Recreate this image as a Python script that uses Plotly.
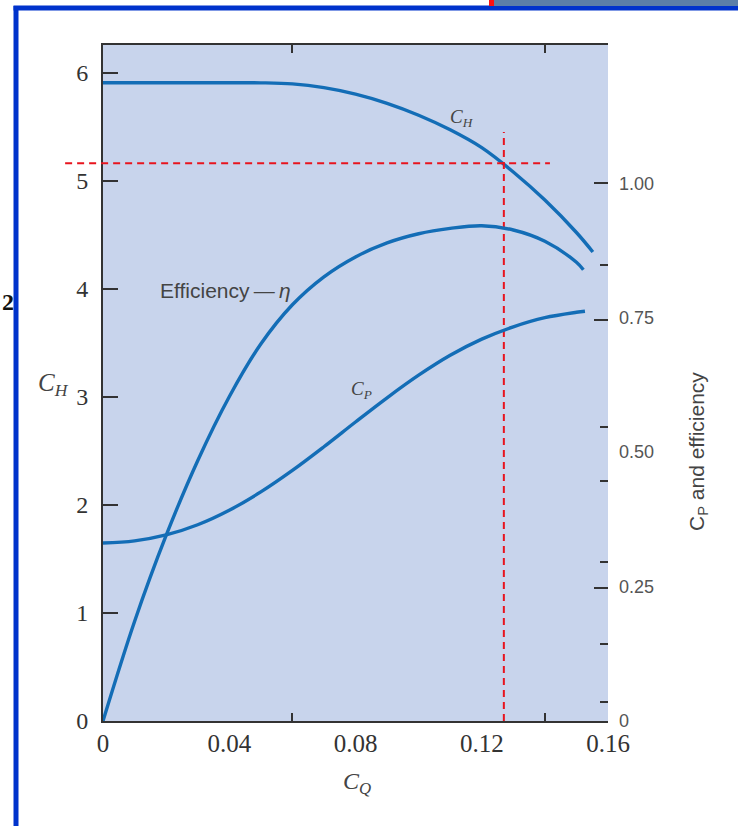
import plotly.graph_objects as go

# ---------------- data ----------------
q_head = [0, 0.02, 0.04, 0.05, 0.06, 0.07, 0.08, 0.09, 0.10, 0.11, 0.12, 0.13, 0.14, 0.15, 0.1552]
c_head = [5.906, 5.906, 5.906, 5.905, 5.895, 5.86, 5.80, 5.715, 5.605, 5.47, 5.305, 5.08, 4.82, 4.52, 4.34]

q_eff = [0, 0.01, 0.02, 0.03, 0.04, 0.05, 0.06, 0.07, 0.08, 0.09, 0.10, 0.11, 0.12, 0.13, 0.14, 0.15, 0.1522]
eff = [0, 0.185, 0.345, 0.484, 0.603, 0.701, 0.774, 0.826, 0.863, 0.889, 0.906, 0.916, 0.921, 0.913,
       0.892, 0.853, 0.839]

q_power = [0, 0.01, 0.02, 0.03, 0.04, 0.05, 0.06, 0.07, 0.08, 0.09, 0.10, 0.11, 0.12, 0.13, 0.14, 0.15, 0.1527]
c_power = [0.331, 0.335, 0.346, 0.365, 0.392, 0.426, 0.466, 0.510, 0.556, 0.601, 0.643, 0.680, 0.710,
           0.733, 0.750, 0.760, 0.762]

op_q = 0.127            # operating point flow coefficient
op_head = 5.16          # operating point head coefficient
op_vline_top = 5.45
op_hline_start = -0.012
op_hline_end = 0.1416

x_tickvals = [0, 0.04, 0.08, 0.12, 0.16]
x_ticktext = ["0", "0.04", "0.08", "0.12", "0.16"]
x_minor_ticks = [0.06, 0.14]
y_tickvals = [0, 1, 2, 3, 4, 5, 6]
y2_tickvals = [0, 0.25, 0.50, 0.75, 1.00]
y2_ticktext = ["0", "0.25", "0.50", "0.75", "1.00"]
y2_long_ticks = [0.247, 0.745, 1.0]
y2_short_ticks = [0.035, 0.144, 0.296, 0.447, 0.547, 0.847]

X_RANGE = [0, 0.16]
Y_RANGE = [0, 6.255]
Y2_RANGE = [0, 1.257]

# ---------------- layout geometry ----------------
W, H = 738, 826
ML, MR, MT, MB = 103, 130, 45, 105
PW, PH = W - ML - MR, H - MT - MB


def px(xp, yp):
    """pixel -> paper coordinates"""
    return (xp - ML) / PW, (H - MB - yp) / PH


BLUE = "#136db6"
RED = "#e8141e"
AX = "#333333"
LINE = dict(color=BLUE, width=3.4, shape="spline", smoothing=1.0)

fig = go.Figure()

fig.add_trace(go.Scatter(x=q_head, y=c_head, mode="lines", line=LINE,
                         xaxis="x", yaxis="y", hoverinfo="skip", showlegend=False))
fig.add_trace(go.Scatter(x=q_eff, y=eff, mode="lines", line=LINE,
                         xaxis="x", yaxis="y2", hoverinfo="skip", showlegend=False))
fig.add_trace(go.Scatter(x=q_power, y=c_power, mode="lines", line=LINE,
                         xaxis="x", yaxis="y2", hoverinfo="skip", showlegend=False))
# operating point vertical dashed line
fig.add_trace(go.Scatter(x=[op_q, op_q], y=[0, op_vline_top], mode="lines",
                         line=dict(color=RED, width=2, dash="7px,5px"),
                         xaxis="x", yaxis="y", hoverinfo="skip", showlegend=False))
# dummy traces to activate helper axes
for ya in ["y3", "y4"]:
    fig.add_trace(go.Scatter(x=[None], y=[None], xaxis="x", yaxis=ya, showlegend=False, hoverinfo="skip"))
fig.add_trace(go.Scatter(x=[None], y=[None], xaxis="x2", yaxis="y", showlegend=False, hoverinfo="skip"))

# horizontal dashed line (extends left of the axis)
hx0 = (op_hline_start - X_RANGE[0]) / (X_RANGE[1] - X_RANGE[0])
hx1 = (op_hline_end - X_RANGE[0]) / (X_RANGE[1] - X_RANGE[0])
shapes = [
    dict(type="line", xref="paper", yref="y", x0=hx0, x1=hx1, y0=op_head, y1=op_head,
         line=dict(color=RED, width=2, dash="7px,5px"), layer="above"),
]

# page decorations (frame of the slide)
fx0, fy0 = px(16, 6)
fx1, fy1 = px(16, 830)
shapes.append(dict(type="line", xref="paper", yref="paper", x0=fx0, x1=fx1, y0=fy0, y1=fy1,
                   line=dict(color="#0033cc", width=5)))
tx0, ty0 = px(13.5, 8)
tx1, _ = px(740, 8)
shapes.append(dict(type="line", xref="paper", yref="paper", x0=tx0, x1=tx1, y0=ty0, y1=ty0,
                   line=dict(color="#0033cc", width=5)))
bx0, by0 = px(494, 0)
bx1, by1 = px(740, 6)
shapes.append(dict(type="rect", xref="paper", yref="paper", x0=bx0, x1=bx1, y0=by0, y1=by1,
                   fillcolor="#5b7fa8", line=dict(width=0)))
rx0, _ = px(489, 0)
shapes.append(dict(type="rect", xref="paper", yref="paper", x0=rx0, x1=bx0, y0=by0, y1=by1,
                   fillcolor="#ff1010", line=dict(width=0)))

annotations = []
# curve labels
annotations.append(dict(x=0.1138, y=5.58, xref="x", yref="y", showarrow=False,
                        text="<i>C<sub>H</sub></i>", font=dict(family="Liberation Serif", size=19, color="#444")))
annotations.append(dict(x=0.0387, y=3.98, xref="x", yref="y", showarrow=False,
                        text="Efficiency\u2009\u2014\u2009<i>\u03b7</i>",
                        font=dict(family="Liberation Sans", size=21, color="#444")))
annotations.append(dict(x=0.082, y=3.06, xref="x", yref="y", showarrow=False,
                        text="<i>C<sub>P</sub></i>", font=dict(family="Liberation Serif", size=19, color="#444")))
# axis titles
ax_, ay_ = px(36, 384)
annotations.append(dict(x=ax_, y=ay_, xref="paper", yref="paper", showarrow=False,
                        text="<i>C<sub>H</sub></i>", font=dict(family="Liberation Serif", size=25, color="#444")))
ax_, ay_ = px(357, 800)
annotations.append(dict(x=ax_, y=ay_, xref="paper", yref="paper", showarrow=False,
                        text="<i>C<sub>Q</sub></i>", font=dict(family="Liberation Serif", size=24, color="#444")))
ax_, ay_ = px(713, 452)
annotations.append(dict(x=ax_, y=ay_, xref="paper", yref="paper", showarrow=False, textangle=-90,
                        text="C<sub>P</sub> and efficiency", font=dict(family="Liberation Sans", size=21, color="#444")))
ax_, ay_ = px(0, 302)
annotations.append(dict(x=ax_, y=ay_, xref="paper", yref="paper", showarrow=False, xanchor="left",
                        text="<b>2</b>", font=dict(family="Liberation Serif", size=24, color="#111")))

fig.update_layout(
    width=W, height=H,
    margin=dict(l=ML, r=MR, t=MT, b=MB, pad=0),
    paper_bgcolor="white",
    plot_bgcolor="#c8d4ec",
    showlegend=False,
    xaxis=dict(range=X_RANGE, tickvals=x_tickvals, ticktext=x_ticktext, ticks="",
               showline=True, linecolor=AX, linewidth=2, mirror=True, showgrid=False, zeroline=False,
               tickfont=dict(family="Liberation Serif", size=25, color="#333"), ticklabelstandoff=-1),
    xaxis2=dict(range=X_RANGE, overlaying="x", anchor="y", side="bottom", tickvals=x_minor_ticks,
                ticks="inside", ticklen=8, tickwidth=1.5, tickcolor=AX, showticklabels=False,
                showline=False, mirror="ticks", showgrid=False, zeroline=False),
    yaxis=dict(range=Y_RANGE, tickvals=y_tickvals, ticks="inside", ticklen=15, tickwidth=2, tickcolor=AX,
               showline=True, linecolor=AX, linewidth=2, showgrid=False, zeroline=False,
               tickfont=dict(family="Liberation Serif", size=24, color="#333"), ticklabelstandoff=8),
    yaxis2=dict(range=Y2_RANGE, overlaying="y", side="right", anchor="x", tickvals=y2_tickvals, ticktext=y2_ticktext,
                ticks="", showline=False, showgrid=False, zeroline=False,
                tickfont=dict(family="Liberation Sans", size=18, color="#555"), ticklabelstandoff=10),
    yaxis3=dict(range=Y2_RANGE, overlaying="y", side="right", anchor="x", tickvals=y2_long_ticks,
                ticks="inside", ticklen=14, tickwidth=2, tickcolor=AX, showticklabels=False,
                showline=False, showgrid=False, zeroline=False),
    yaxis4=dict(range=Y2_RANGE, overlaying="y", side="right", anchor="x", tickvals=y2_short_ticks,
                ticks="inside", ticklen=8, tickwidth=2, tickcolor=AX, showticklabels=False,
                showline=False, showgrid=False, zeroline=False),
    shapes=shapes,
    annotations=annotations,
)

fig.write_html("out.html")
